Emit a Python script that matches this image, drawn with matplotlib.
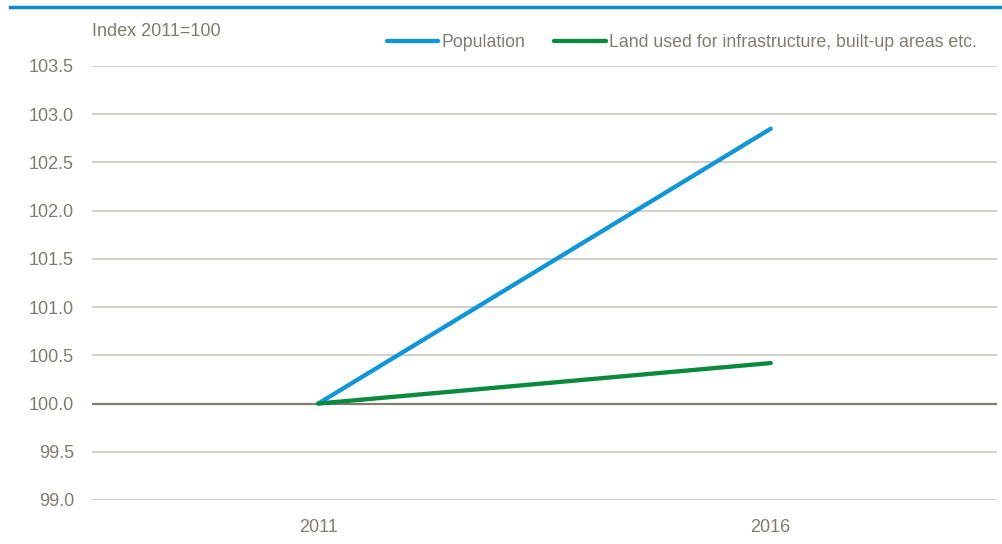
import matplotlib.pyplot as plt
from matplotlib.lines import Line2D

plt.rcParams['font.family'] = ['Liberation Sans', 'DejaVu Sans']

years = ['2011', '2016']
population = [100.0, 102.85]
land_used = [100.0, 100.42]
y_ticks = [99.0, 99.5, 100.0, 100.5, 101.0, 101.5, 102.0, 102.5, 103.0, 103.5]

text_col = '#7f7c70'
grid_col = '#c9c7bd'
blue = '#0d96d8'
green = '#098a3e'

fig = plt.figure(figsize=(10.03, 5.44), dpi=100)
ax = fig.add_axes([92 / 1003, 44 / 544, 905 / 1003, 434 / 544])

x = range(len(years))
ax.plot(x, population, color=blue, lw=3.1, solid_capstyle='round', zorder=3)
ax.plot(x, land_used, color=green, lw=3.1, solid_capstyle='round', zorder=3)

ax.set_xlim(-0.5, 1.5)
ax.set_ylim(99.0, 103.5)
ax.set_yticks(y_ticks)
ax.set_yticklabels([f'{v:.1f}' for v in y_ticks])
ax.set_xticks(list(x))
ax.set_xticklabels(years)
for v in y_ticks:
    if v == 100.0:
        ax.axhline(v, color='#7f7c70', lw=1.6, zorder=2)
    else:
        ax.axhline(v, color=grid_col, lw=1.2, zorder=1)

for s in ax.spines.values():
    s.set_visible(False)
ax.tick_params(length=0, labelsize=13, labelcolor=text_col)
ax.tick_params(axis='y', pad=13)
ax.tick_params(axis='x', pad=14)

ax.text(0, 1.08, 'Index 2011=100', transform=ax.transAxes, fontsize=13,
        color=text_col, ha='left', va='center')

handles = [Line2D([], [], color=blue, lw=3.1, solid_capstyle='round'),
           Line2D([], [], color=green, lw=3.1, solid_capstyle='round')]
leg = ax.legend(handles, ['Population', 'Land used for infrastructure, built-up areas etc.'],
                loc='center right', bbox_to_anchor=(0.978, 1.053), ncol=2, frameon=False,
                fontsize=12.8, handlelength=2.9, handletextpad=0.2, columnspacing=1.6,
                borderaxespad=0, borderpad=0)
for t in leg.get_texts():
    t.set_color(text_col)

# thin rule across the top of the figure
fig.add_artist(Line2D([10 / 1003, 1.0], [1 - 7 / 544, 1 - 7 / 544],
                      transform=fig.transFigure, color='#0a8ccc', lw=2.5))

fig.savefig('out.png', dpi=100)
